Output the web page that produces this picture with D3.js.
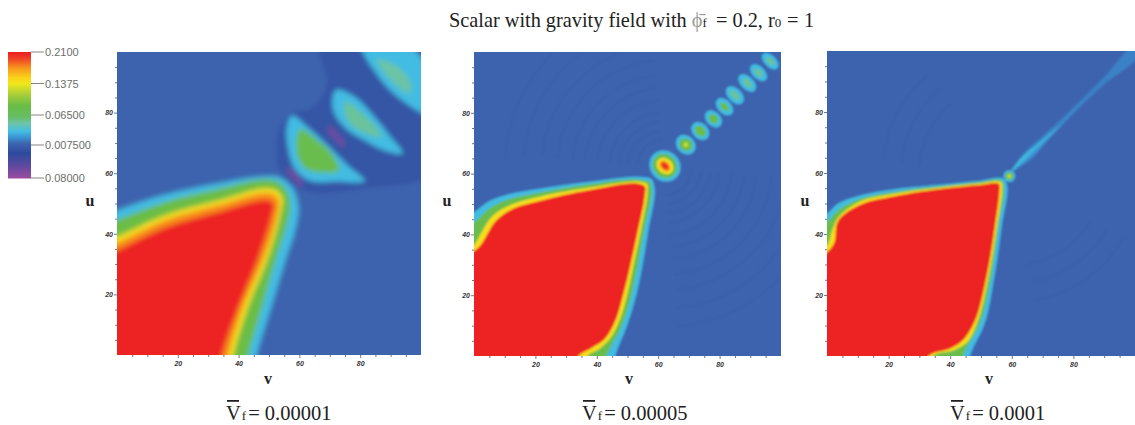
<!DOCTYPE html>
<html><head><meta charset="utf-8">
<style>
html,body{margin:0;padding:0;background:#fff;overflow:hidden}
text{font-family:"Liberation Serif",serif;fill:#222}
.tick-label{font-family:"Liberation Sans",sans-serif;font-size:7px;font-weight:700;font-style:italic;fill:#333}
.legend-label{font-family:"Liberation Sans",sans-serif;font-size:11px;fill:#6d6d6d}
</style>
<script src="https://cdn.jsdelivr.net/npm/d3@7"></script>
</head><body><svg id="c" width="1135" height="425"></svg>
<script>
// ---- colour legend ----
const legendLabels = ["0.2100","0.1375","0.06500","0.007500","0.08000"];
const legendValues = [0.21,0.1375,0.065,-0.0075,-0.08];
const colorValues = [0.21,0.197,0.175,0.152,0.138,0.112,0.088,0.062,0.046,0.028,0.013,0.0,-0.022,-0.05,-0.08];
const colorStops = ["#ed2024","#ef3e26","#f7941d","#fbd318","#eee81c","#a5cd3b","#6abd45","#66bd63","#6dc5ad","#42bce3","#3a8fd0","#3d63ae","#2d4a9e","#5c4a9f","#9c4c9f"];
const axisTicks = [20,40,60,80];
const minorTicks = [5,10,15,25,30,35,45,50,55,65,70,75,85,90,95];

// ---- contour levels: [v,u] vertices; each level encloses everything hotter ----
const p1Cyan = [[0,47.8],[16,53],[33,56.6],[49.2,59],[53.6,58.6],[57.5,55.5],[59.7,48.9],[58.6,41.2],[55.8,32.4],[50.8,16],[46,0]];
const p1Green = [[0,44.5],[16,50.5],[33,54.7],[49.2,57.9],[53,57.1],[56,53.8],[57,49],[55.3,41.2],[52.5,32.4],[47.8,16],[43.2,0]];
const p1Yellow = [[0,39],[16,46.2],[33,50.9],[49,55],[52.5,54.4],[54.5,51.6],[53.8,46.7],[49.8,32.4],[43.2,16],[38.3,0]];
const p1Orange = [[0,37],[16,44.5],[33,49.3],[48.5,53.4],[51.5,53],[53.2,50.8],[52.8,46.7],[48.4,32.4],[41.5,16],[36.6,0]];
const p1Red = [[0,34.5],[16,42],[33,47],[47.5,51],[50,51],[51.5,49.5],[51,46.7],[46.6,32.4],[40,16],[34.5,0]];
const p2Cyan = [[0,47.4],[5,51],[10.5,53],[21.4,55],[37.8,57.3],[54,58.9],[57.8,58.2],[58.8,55.6],[56.8,41.4],[53,20.6],[49.7,9.6],[46,0]];
const p2Green = [[0,44],[5,48.5],[10.5,51.3],[21.4,53.8],[37.8,56.5],[54,58],[57.2,57.2],[57.8,54.5],[55.4,41.4],[51.4,20.6],[48,9.6],[43.2,0]];
const p2Yellow = [[0,36.5],[1.8,39.5],[6.2,46.2],[12.7,50],[21.4,52.4],[37.8,55.4],[54,57.3],[56.4,56.6],[56.6,54.5],[54.4,41.4],[52,30],[50,20.6],[47.5,12],[44.5,6],[41,2.5],[37,0]];
const p2Red = [[0,34.5],[2.2,36.5],[4,39.5],[7,44.3],[12.7,48.4],[21.4,51],[37.8,54.6],[54,56.6],[55.6,55.8],[55.5,52],[53.4,41.4],[49,21.7],[45.8,11],[42.5,5.5],[38,2.5],[34,0]];
const p3Cyan = [[0,46.7],[3.6,50],[11,52.7],[22,54.7],[38.2,56.3],[49,57.4],[57.2,58.1],[58.3,56.5],[56.7,42.4],[54.5,27],[51.2,10.7],[46.4,0]];
const p3Green = [[0,44],[3.6,47.8],[11,51.6],[22,53.8],[38.2,55.8],[49,57],[56.9,57.4],[57.4,55.5],[55.6,42.4],[53.4,27],[49.6,10.7],[44.2,0]];
const p3Yellow = [[0,36.3],[1.6,41],[3.6,45.3],[11,50.7],[22,53.2],[38.2,55.4],[49,56.5],[56.7,56.8],[56.9,55],[55.2,42.4],[52.7,27],[48.7,10.7],[45.5,4.5],[41,1.8],[34.5,0]];
const p3Red = [[0,34],[2.3,37],[3.6,44.3],[11,49.7],[22,52.4],[38.2,54.9],[49,56],[55.9,56.3],[56,54.4],[54.5,42.4],[52,27],[47.7,10.7],[44,5],[40,2.5],[33,0]];
// closed features of panel 1
const p1Trough = [[66,104],[104,104],[104,60],[82,55],[65,53.5],[58,56],[53.5,61],[53.5,75],[58,80],[64,81.5],[69,89]];
const p1Streak1 = [[56.5,62],[58.5,60],[61,56.5],[60.5,55.5],[58,58],[56,60.5]];
const p1Streak2 = [[70,75.5],[72.5,73],[75,69.5],[74.5,68.5],[71.5,71.5],[69.2,74]];
const p1LobeACyan = [[57.5,79],[62.4,75.5],[69,69.5],[76,62.5],[81.5,57.5],[72,57.3],[63.5,57.5],[58.5,61.5],[56.2,68.7],[56,76]];
const p1LobeAGreen = [[60.3,74.5],[65.7,71],[70.5,66.5],[73,61],[66.8,60.2],[61.5,62],[59,67.6]];
const p1LobeBCyan = [[72,87.5],[77.8,85.5],[84.4,79],[90,72],[94,66.5],[88,67.5],[82,70.5],[75.2,74.8],[71,81.3]];
const p1LobeBTeal = [[75,83.5],[81,79.5],[87,72],[80.5,73.7],[75.8,77.5]];
const p1LobeCCyan = [[80,104],[93,104],[104,92],[104,79],[93.2,84.5],[85.5,92.5]];
const p1LobeCTeal = [[85.5,97.5],[91,96],[96.5,90],[96.5,86.5],[90,90.8]];
const p3JetOuter = [[61,62],[64,66.5],[71,73],[80,81.5],[90,91.5],[100,101.5],[101,99],[90,89],[80,79.7],[72,71],[65,63.5]];
const p3JetMid = [[60,60.5],[64,65.8],[72,72.3],[84,84.2],[72,71.3],[65,64]];
const p3JetInner = [[59.5,60],[63,65],[68,69.3],[75,75.2],[68,68.2],[63,63.2]];
// oscillation blobs: v, u, value, major radius, minor radius (major axis runs across the diagonal)
const p2Blobs = [
 [62.2,62.5,0.028,5.3,4.8],[62.2,62.5,0.08,4.2,3.7],[62.2,62.5,0.145,3,2.4],[62.2,62.5,0.18,2,1.4],[62.2,62.5,0.21,1.3,0.7],
 [69,69.5,0.028,3.5,2.9],[69,69.5,0.085,2.2,1.9],[69,69.5,0.125,0.8,0.8],
 [73.7,74,0.028,3.3,2.5],[73.7,74,0.085,2,1.5],
 [78,78,0.028,3.2,2.3],[78,78,0.085,1.7,1.3],
 [81.6,82,0.028,3.3,2.2],[81.6,82,0.07,1.7,1.1],
 [85,85.8,0.028,3.5,2.2],[85,85.8,0.05,2,1],
 [89,89.8,0.028,3.5,2.1],[89,89.8,0.05,1.9,1],
 [92.7,93.2,0.028,3.3,2],[92.7,93.2,0.05,1.7,1],
 [96.5,97,0.028,3.3,1.9],[96.5,97,0.05,1.7,0.9]];
const p3Blobs = [[59.2,59,0.028,1.9,1.9],[59.2,59,0.085,1.2,1.2],[59.2,59,0.14,0.5,0.5]];
// faint ripple rings: radius about the first burst, in v/u units
const p2RippleRadii = [9,12,15,18,22,26,30,35,40,46,52];
const p3RippleRadii = [30,36,42];

const svg = d3.select("#c");
const defs = svg.append("defs");
const color = d3.scaleLinear().domain(colorValues).range(colorStops);

[["b1",2.4],["b2",1.1],["b3",0.9]].forEach(([id,s])=>{
  defs.append("filter").attr("id",id).attr("x","-20%").attr("y","-20%").attr("width","140%").attr("height","140%")
   .append("feGaussianBlur").attr("stdDeviation",s);
});

function drawPanel(cfg){
  const x = d3.scaleLinear().domain([0,100]).range(cfg.xr);
  const y = d3.scaleLinear().domain([0,100]).range(cfg.yr);
  const line = d3.line().x(d=>x(d[0])).y(d=>y(d[1])).curve(d3.curveCatmullRomClosed.alpha(0.7));
  defs.append("clipPath").attr("id","clip"+cfg.id).append("rect")
    .attr("x",cfg.xr[0]).attr("y",cfg.yr[1]).attr("width",cfg.xr[1]-cfg.xr[0]).attr("height",cfg.yr[0]-cfg.yr[1]);
  const g = svg.append("g").attr("clip-path",`url(#clip${cfg.id})`);
  g.append("rect").attr("x",cfg.xr[0]-2).attr("y",cfg.yr[1]-2).attr("width",cfg.xr[1]-cfg.xr[0]+4).attr("height",cfg.yr[0]-cfg.yr[1]+4).attr("fill",color(0));
  const soft = g.append("g").attr("filter",`url(#b${cfg.id})`);
  soft.append("rect").attr("x",cfg.xr[0]-30).attr("y",cfg.yr[1]-30).attr("width",cfg.xr[1]-cfg.xr[0]+60).attr("height",cfg.yr[0]-cfg.yr[1]+60).attr("fill",color(0));
  (cfg.ripples||[]).forEach(r=>{
    cfg.rippleSectors.forEach(s=>{
      const rad = x(r)-x(0);
      soft.append("path").attr("transform",`translate(${x(cfg.burst[0])},${y(cfg.burst[1])})`)
        .attr("d",d3.arc()({innerRadius:rad-0.9,outerRadius:rad+0.9,startAngle:s[0]*Math.PI/180,endAngle:s[1]*Math.PI/180}))
        .attr("fill",color(-0.012)).attr("opacity",0.28);
    });
  });
  (cfg.closed||[]).forEach(([val,pts])=>{
    soft.append("path").attr("d",line(pts)).attr("fill",color(val));
  });
  cfg.contours.forEach(([val,pts])=>{
    const n = pts.length;
    const full = [[-10,pts[0][1]-4],...pts,[pts[n-1][0]-2,-10],[-10,-10]];
    soft.append("path").attr("d",line(full)).attr("fill",color(val));
  });
  (cfg.blobs||[]).forEach(([v,u,val,a,b])=>{
    soft.append("ellipse").attr("cx",x(v)).attr("cy",y(u))
      .attr("rx",x(a)-x(0)).attr("ry",x(b)-x(0))
      .attr("transform",`rotate(45 ${x(v)} ${y(u)})`).attr("fill",color(val));
  });
  const ax = svg.append("g").attr("transform",`translate(0,${cfg.yr[0]})`);
  ax.call(d3.axisBottom(x).tickValues(axisTicks).tickSize(3).tickFormat(d3.format("d")));
  const axm = svg.append("g").attr("transform",`translate(0,${cfg.yr[0]})`);
  axm.call(d3.axisBottom(x).tickValues(minorTicks).tickSize(2).tickFormat(""));
  const ay = svg.append("g").attr("transform",`translate(${cfg.xr[0]},0)`);
  ay.call(d3.axisLeft(y).tickValues(axisTicks).tickSize(3).tickFormat(d3.format("d")));
  const aym = svg.append("g").attr("transform",`translate(${cfg.xr[0]},0)`);
  aym.call(d3.axisLeft(y).tickValues(minorTicks).tickSize(2).tickFormat(""));
  [ax,axm,ay,aym].forEach(a=>{a.select(".domain").remove();a.selectAll("line").attr("stroke","#555").attr("stroke-width",0.8);
    a.selectAll("text").attr("class","tick-label").attr("font-family",null).attr("font-size",null);});
  ax.selectAll("text").attr("dy","0.9em").attr("y",5);
  ay.selectAll("text").attr("x",-4);
  svg.append("text").attr("x",cfg.vx).attr("y",384).attr("text-anchor","middle").attr("font-size",16).attr("font-weight",700).text("v");
  svg.append("text").attr("x",cfg.ux).attr("y",206).attr("text-anchor","middle").attr("font-size",16).attr("font-weight",700).text("u");
  const cap = svg.append("text").attr("x",cfg.capx).attr("y",420).attr("font-size",20.5);
  cap.append("tspan").text("V");
  cap.append("tspan").attr("font-size",13).attr("dx",1).text("f");
  cap.append("tspan").attr("dx",2).text("= "+cfg.cap);
  svg.append("rect").attr("x",cfg.capx+1).attr("y",400).attr("width",12).attr("height",1.8).attr("fill","#222");
}

drawPanel({id:1,xr:[117,421],yr:[355,52],vx:268,ux:90,capx:226,cap:"0.00001",
  closed:[[-0.012,p1Trough],[-0.06,p1Streak1],[-0.06,p1Streak2],[0.028,p1LobeACyan],[0.028,p1LobeBCyan],[0.028,p1LobeCCyan],[0.08,p1LobeAGreen],[0.05,p1LobeBTeal],[0.048,p1LobeCTeal]],
  contours:[[0.028,p1Cyan],[0.088,p1Green],[0.145,p1Yellow],[0.178,p1Orange],[0.21,p1Red]]});
drawPanel({id:2,xr:[474,781],yr:[356,52],vx:629,ux:447,capx:582,cap:"0.00005",
  burst:[62,62],ripples:p2RippleRadii,rippleSectors:[[-85,-5],[95,175]],
  contours:[[0.028,p2Cyan],[0.08,p2Green],[0.145,p2Yellow],[0.21,p2Red]],blobs:p2Blobs});
drawPanel({id:3,xr:[827,1135],yr:[356,51],vx:989,ux:805,capx:950,cap:"0.0001",
  burst:[60,60],ripples:p3RippleRadii,rippleSectors:[[-85,-40],[120,170]],
  closed:[[0.009,p3JetOuter],[0.016,p3JetMid],[0.026,p3JetInner]],
  contours:[[0.028,p3Cyan],[0.08,p3Green],[0.145,p3Yellow],[0.21,p3Red]],blobs:p3Blobs});

// colour legend
const ly = d3.scaleLinear().domain([0.21,-0.08]).range([52,178]);
const steps = d3.range(0,126).map(i=>ly.invert(52+i));
svg.append("g").selectAll("rect").data(steps).join("rect")
  .attr("x",8).attr("width",23).attr("y",d=>ly(d)).attr("height",1.5).attr("fill",d=>color(d));
legendValues.forEach((d,i)=>{
  const yy = i==3?145:ly(d);
  svg.append("line").attr("x1",31).attr("x2",44).attr("y1",yy).attr("y2",yy).attr("stroke","#666").attr("stroke-width",0.8);
  svg.append("text").attr("class","legend-label").attr("x",45).attr("y",yy+4).text(legendLabels[i]);
});

// title
const t = svg.append("text").attr("x",449).attr("y",27).attr("font-size",20.3);
t.append("tspan").text("Scalar with gravity field with ");
t.append("tspan").style("fill","#999").text("\u03D5\u0304");
t.append("tspan").attr("font-size",13).text("f");
t.append("tspan").attr("x",716).text("= 0.2, r");
t.append("tspan").attr("font-size",13).text("0");
t.append("tspan").attr("x",787).text("=");
t.append("tspan").attr("x",804).text("1");
</script></body></html>
